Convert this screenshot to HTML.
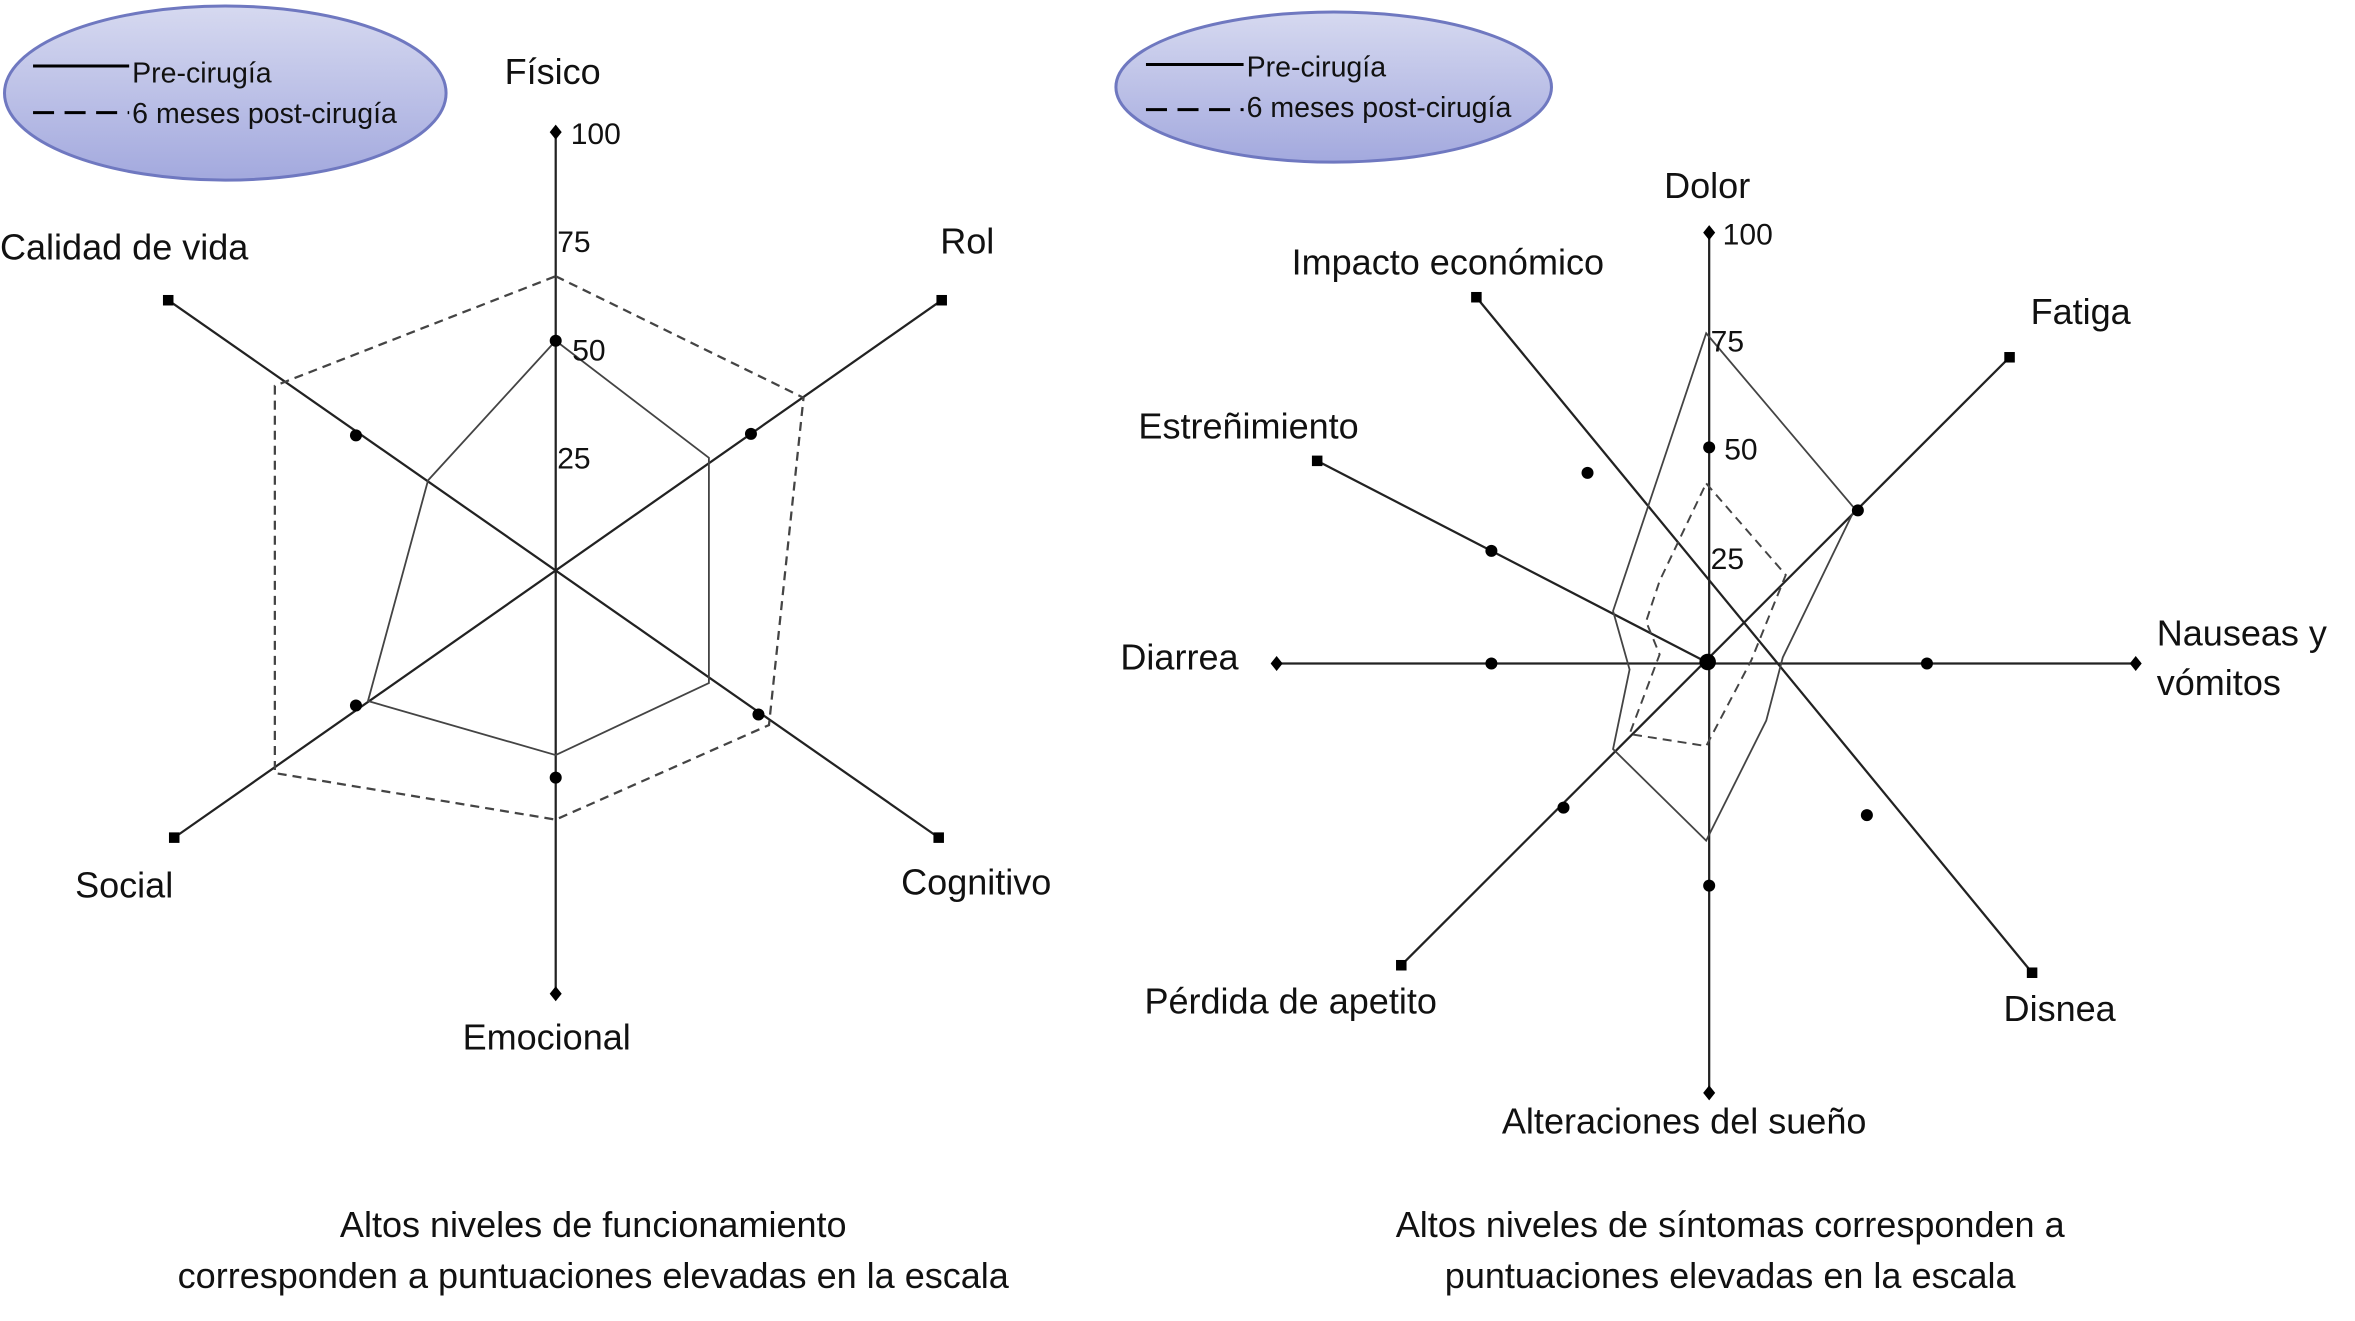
<!DOCTYPE html>
<html><head><meta charset="utf-8"><style>
html,body{margin:0;padding:0;background:#fff;}
svg{display:block;}
text{font-family:"Liberation Sans",Arial,sans-serif;fill:#111;}
</style></head><body>
<svg width="2355" height="1321" viewBox="0 0 1568 880" preserveAspectRatio="none" xmlns="http://www.w3.org/2000/svg">
<defs>
<linearGradient id="g" x1="0" y1="0" x2="0" y2="1">
<stop offset="0" stop-color="#d6d9f0"/><stop offset="1" stop-color="#a3a9de"/></linearGradient>
<g id="sq"><rect x="-3.5" y="-3.5" width="7" height="7" fill="#000"/></g>
<g id="dm"><polygon points="0,-5 4,0 0,5 -4,0" fill="#000"/></g>
<g id="dt"><circle r="4" fill="#000"/></g>
</defs>
<!-- Legends -->
<ellipse cx="150" cy="62" rx="147" ry="58" fill="url(#g)" stroke="#6f78c0" stroke-width="2"/>
<line x1="22" y1="44" x2="86" y2="44" stroke="#000" stroke-width="2"/>
<text x="88" y="55" font-size="19">Pre-cirugía</text>
<line x1="22" y1="75" x2="86" y2="75" stroke="#000" stroke-width="2" stroke-dasharray="14,7"/>
<text x="88" y="82" font-size="19">6 meses post-cirugía</text>
<ellipse cx="888" cy="58" rx="145" ry="50" fill="url(#g)" stroke="#6f78c0" stroke-width="2"/>
<line x1="763" y1="43" x2="828" y2="43" stroke="#000" stroke-width="2"/>
<text x="830" y="51" font-size="19">Pre-cirugía</text>
<line x1="763" y1="73" x2="828" y2="73" stroke="#000" stroke-width="2" stroke-dasharray="14,7"/>
<text x="830" y="78" font-size="19">6 meses post-cirugía</text>

<!-- Left chart -->
<g stroke="#222" stroke-width="1.5" fill="none">
<line x1="370" y1="88" x2="370" y2="662"/>
<line x1="112" y1="200" x2="625" y2="558"/>
<line x1="627" y1="200" x2="116" y2="558"/>
</g>
<polygon points="370,227 472,305 472,455 370,503 245,467 285,320" fill="none" stroke="#444" stroke-width="1.2"/>
<polygon points="370,184 535,265 512,483 370,546 183,515 183,257" fill="none" stroke="#444" stroke-width="1.5" stroke-dasharray="6,4"/>
<use href="#dm" x="370" y="88"/><use href="#dm" x="370" y="662"/>
<use href="#sq" x="112" y="200"/><use href="#sq" x="625" y="558"/><use href="#sq" x="627" y="200"/><use href="#sq" x="116" y="558"/>
<use href="#dt" x="370" y="227"/><use href="#dt" x="237" y="290"/><use href="#dt" x="500" y="289"/><use href="#dt" x="237" y="470"/><use href="#dt" x="505" y="476"/><use href="#dt" x="370" y="518"/>
<text x="380" y="96" font-size="20">100</text>
<text x="371" y="168" font-size="20">75</text>
<text x="381" y="240" font-size="20">50</text>
<text x="371" y="312" font-size="20">25</text>
<text x="336" y="56" font-size="24">Físico</text>
<text x="0" y="173" font-size="24">Calidad de vida</text>
<text x="626" y="169" font-size="24">Rol</text>
<text x="50" y="598" font-size="24">Social</text>
<text x="600" y="596" font-size="24">Cognitivo</text>
<text x="308" y="699" font-size="24">Emocional</text>
<text x="395" y="824" font-size="24" text-anchor="middle">Altos niveles de funcionamiento</text>
<text x="395" y="858" font-size="24" text-anchor="middle">corresponden a puntuaciones elevadas en la escala</text>

<!-- Right chart -->
<g stroke="#222" stroke-width="1.5" fill="none">
<line x1="1138" y1="155" x2="1138" y2="728"/>
<line x1="850" y1="442" x2="1422" y2="442"/>
<line x1="1338" y1="238" x2="933" y2="643"/>
<line x1="983" y1="198" x2="1353" y2="648"/>
<line x1="877" y1="307" x2="1138" y2="442"/>
</g>
<polygon points="1136,222 1235,339 1187,438 1176,480 1136,560 1074,499 1085,446 1074,407" fill="none" stroke="#444" stroke-width="1.2"/>
<polygon points="1136,322 1189,383 1166,440 1136,497 1085,489 1105,436 1096,414 1105,387" fill="none" stroke="#444" stroke-width="1.3" stroke-dasharray="6,4"/>
<use href="#dm" x="1138" y="155"/><use href="#dm" x="1138" y="728"/><use href="#dm" x="850" y="442"/><use href="#dm" x="1422" y="442"/>
<use href="#sq" x="1338" y="238"/><use href="#sq" x="933" y="643"/><use href="#sq" x="983" y="198"/><use href="#sq" x="1353" y="648"/><use href="#sq" x="877" y="307"/>
<use href="#dt" x="1138" y="298"/><use href="#dt" x="1237" y="340"/><use href="#dt" x="1057" y="315"/><use href="#dt" x="993" y="367"/><use href="#dt" x="993" y="442"/><use href="#dt" x="1283" y="442"/><use href="#dt" x="1243" y="543"/><use href="#dt" x="1041" y="538"/><use href="#dt" x="1138" y="590"/>
<circle cx="1137" cy="441" r="5.5" fill="#000"/>
<text x="1147" y="163" font-size="20">100</text>
<text x="1139" y="234" font-size="20">75</text>
<text x="1148" y="306" font-size="20">50</text>
<text x="1139" y="379" font-size="20">25</text>
<text x="1108" y="132" font-size="24">Dolor</text>
<text x="860" y="183" font-size="24">Impacto económico</text>
<text x="1352" y="216" font-size="24">Fatiga</text>
<text x="758" y="292" font-size="24">Estreñimiento</text>
<text x="746" y="446" font-size="24">Diarrea</text>
<text x="1436" y="430" font-size="24">Nauseas y</text>
<text x="1436" y="463" font-size="24">vómitos</text>
<text x="762" y="675" font-size="24">Pérdida de apetito</text>
<text x="1334" y="680" font-size="24">Disnea</text>
<text x="1000" y="755" font-size="24">Alteraciones del sueño</text>
<text x="1152" y="824" font-size="24" text-anchor="middle">Altos niveles de síntomas corresponden a</text>
<text x="1152" y="858" font-size="24" text-anchor="middle">puntuaciones elevadas en la escala</text>
</svg>
</body></html>
